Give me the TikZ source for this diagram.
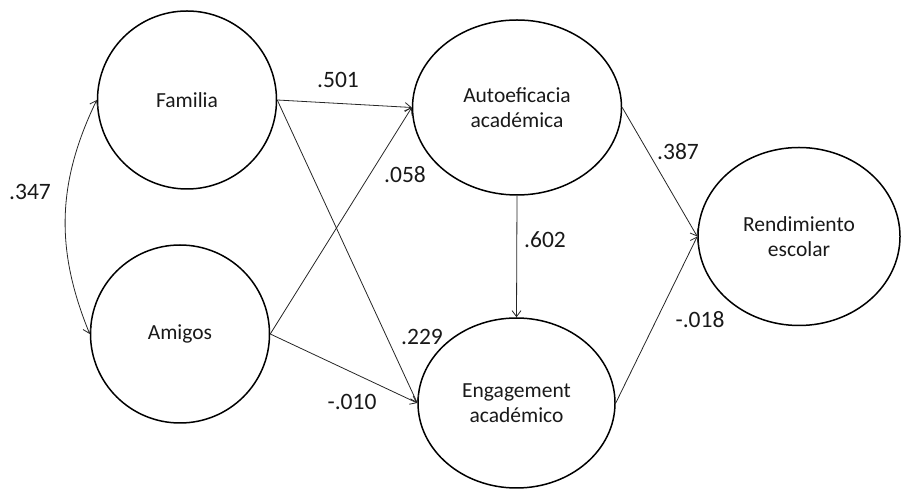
\documentclass[tikz,border=0pt]{standalone}
\usepackage{fontspec}
\setmainfont{Carlito}
\usepackage{tikz}
\usetikzlibrary{positioning,arrows.meta,shapes.geometric}
\tikzset{
    latent/.style={ellipse, draw=black, line width=1.5pt, inner sep=0pt, align=center, font=\fontsize{21.5}{24.5}\selectfont, text=black!90},
    factor/.style={latent, minimum width=179pt, minimum height=178pt},
    path arrow/.style={-{Straight Barb[length=6pt,width=9pt]}, line width=0.8pt, black!85},
    cov arrow/.style={{Straight Barb[length=6pt,width=9pt]}-{Straight Barb[length=6pt,width=9pt]}, line width=0.8pt, black!85},
    coef/.style={font=\fontsize{23.5}{27}\selectfont, text=black!90, inner sep=1pt}
}

\begin{document}
\begin{tikzpicture}[x=1pt,y=1pt]
    \useasboundingbox (0,0) rectangle (901,489);

    % Exogenous factors
    \node[factor] (fam) at (187,389) {Familia};
    \node[factor] (ami) at (180,155) {Amigos};

    % Mediators
    \node[latent, minimum width=209pt, minimum height=175pt] (auto) at (517,381.5) {Autoeficacia\\acad\'emica};
    \node[latent, minimum width=197pt, minimum height=170pt] (eng) at (516.5,86) {Engagement\\acad\'emico};

    % Outcome
    \node[latent, minimum width=202pt, minimum height=178pt] (rend) at (799,252.5) {Rendimiento\\escolar};

    % Covariance
    \draw[cov arrow] (fam.west) to[bend right=24] (ami.west);

    % Paths
    \draw[path arrow] (fam.east) -- (auto.west);
    \draw[path arrow] (ami.east) -- (auto.west);
    \draw[path arrow] (fam.east) -- (eng.west);
    \draw[path arrow] (ami.east) -- (eng.west);
    \draw[path arrow] (auto.south) -- (eng.north);
    \draw[path arrow] (auto.east) -- (rend.west);
    \draw[path arrow] (eng.east) -- (rend.west);

    % Coefficients
    \node[coef] (c-cov) at (30,297) {.347};
    \node[coef] (c-fa) at (338,409) {.501};
    \node[coef] (c-aa) at (405,314) {.058};
    \node[coef] (c-fe) at (422,152) {.229};
    \node[coef] (c-ae) at (352,87) {-.010};
    \node[coef] (c-ue) at (545,249) {.602};
    \node[coef] (c-ur) at (678,337) {.387};
    \node[coef] (c-er) at (700,169) {-.018};
\end{tikzpicture}
\end{document}
